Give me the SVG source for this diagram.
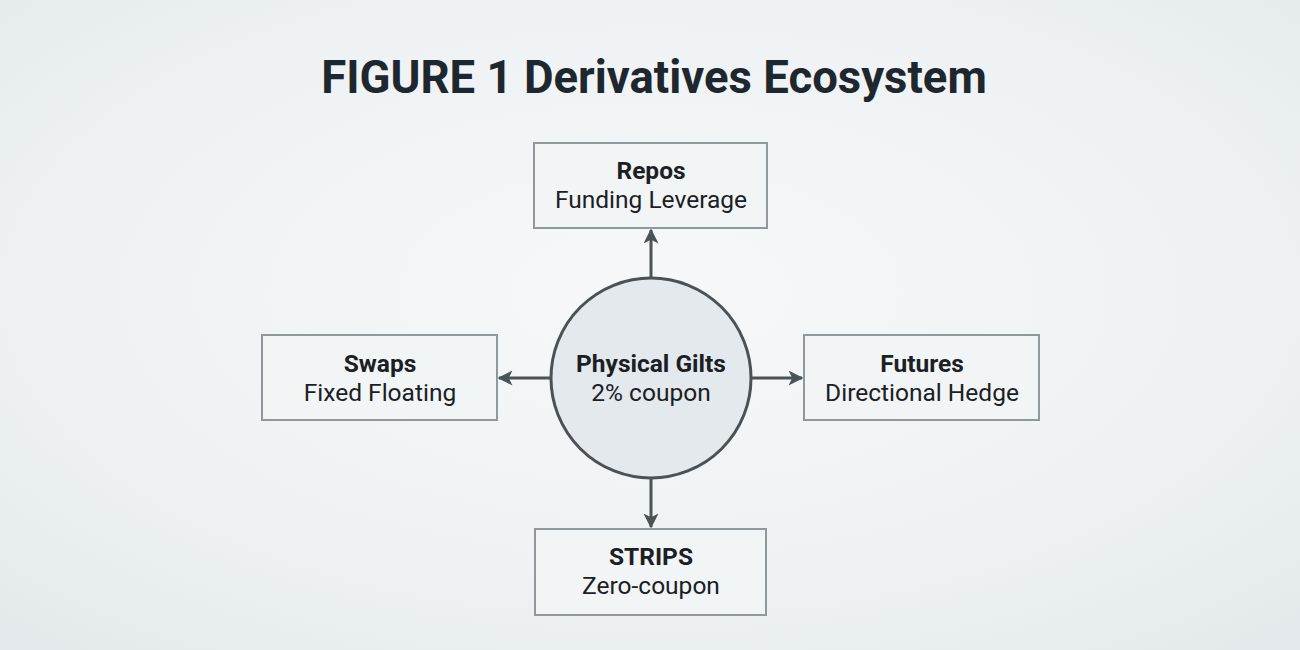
<svg xmlns="http://www.w3.org/2000/svg" width="1300" height="650" viewBox="0 0 1300 650">
  <defs>
    <radialGradient id="bg" cx="50%" cy="45%" r="75%">
      <stop offset="0" stop-color="#f6f8f9"/>
      <stop offset="0.6" stop-color="#eef2f4"/>
      <stop offset="1" stop-color="#e2e8eb"/>
    </radialGradient>
    <marker id="arr" viewBox="0 0 10 10" refX="9" refY="5" markerWidth="5" markerHeight="5" orient="auto" markerUnits="strokeWidth">
      <path d="M0,0 L10,5 L0,10 L2.5,5 Z" fill="#4a5357"/>
    </marker>
    <style>
      .box { fill: #f2f5f6; stroke: #8f989d; stroke-width: 2; }
      .hub { fill: #e3e9ec; stroke: #4b5256; stroke-width: 3; }
      .t { font-family: Roboto, "Liberation Sans", sans-serif; fill: #1b2024; text-anchor: middle; }
      .b { font-weight: 700; font-size: 24.5px; }
      .r { font-weight: 400; font-size: 24.5px; }
      .title { font-family: Roboto, "Liberation Sans", sans-serif; font-weight: 700; font-size: 45.5px; fill: #1e272d; text-anchor: middle; }
      .edge { stroke: #4a5357; stroke-width: 3; fill: none; marker-end: url(#arr); }
    </style>
  </defs>
  <rect width="1300" height="650" fill="url(#bg)"/>
  <text class="title" x="654" y="93">FIGURE 1 Derivatives Ecosystem</text>

  <g id="connectors">
    <line class="edge" x1="651" y1="278" x2="651" y2="230"/>
    <line class="edge" x1="651" y1="478" x2="651" y2="527"/>
    <line class="edge" x1="551" y1="378" x2="499" y2="378"/>
    <line class="edge" x1="751" y1="378" x2="802" y2="378"/>
  </g>

  <g id="repos">
    <rect class="box" x="534" y="143" width="233" height="85"/>
    <text class="t b" x="651" y="179">Repos</text>
    <text class="t r" x="651" y="208">Funding Leverage</text>
  </g>
  <g id="swaps">
    <rect class="box" x="262" y="335" width="235" height="85"/>
    <text class="t b" x="380" y="372">Swaps</text>
    <text class="t r" x="380" y="401">Fixed Floating</text>
  </g>
  <g id="futures">
    <rect class="box" x="804" y="335" width="235" height="85"/>
    <text class="t b" x="922" y="372">Futures</text>
    <text class="t r" x="922" y="401">Directional Hedge</text>
  </g>
  <g id="strips">
    <rect class="box" x="535" y="529" width="231" height="86"/>
    <text class="t b" x="651" y="565">STRIPS</text>
    <text class="t r" x="651" y="594">Zero-coupon</text>
  </g>
  <g id="physical-gilts">
    <circle class="hub" cx="651" cy="378" r="100"/>
    <text class="t b" x="651" y="372">Physical Gilts</text>
    <text class="t r" x="651" y="401">2% coupon</text>
  </g>
</svg>
